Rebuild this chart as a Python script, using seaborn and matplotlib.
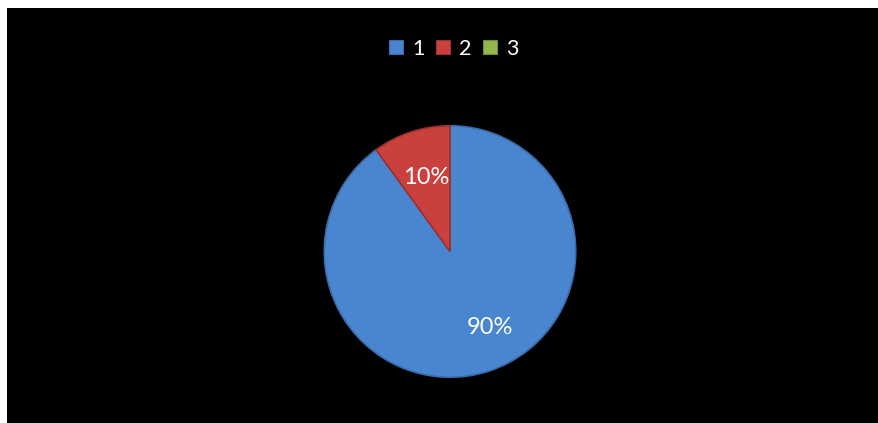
import matplotlib
matplotlib.use("Agg")
import numpy as np
import matplotlib.pyplot as plt
from matplotlib.lines import Line2D
from matplotlib.patches import Rectangle
import seaborn as sns

# data
categories = ["1", "2", "3"]
shares = [90, 10, 0]
colors = ["#4a85cf", "#c9403c", "#93b64f"]
edge_colors = ["#3a6cab", "#9c2f2c", "#6f8c3a"]

sns.set_style("white")
plt.rcParams['font.family'] = ['Lato', 'DejaVu Sans']

W, H = 879, 423
fig = plt.figure(figsize=(W / 100, H / 100), dpi=100)
fig.patch.set_facecolor("white")
# black chart area (thin white margin on top/left)
fig.patches.append(Rectangle((7 / W, 0), 1 - 7 / W, 1 - 8 / H,
                             transform=fig.transFigure, facecolor="black",
                             edgecolor="none", zorder=-5))

cx, cy, r = 450, 251.5, 127
ax = fig.add_axes([(cx - r) / W, (H - cy - r) / H, 2 * r / W, 2 * r / H])
ax.set_facecolor("none")
ax.set_zorder(2)


def pct_label(p):
    return f"{p:.0f}%" if p > 0.5 else ""


wedges, texts, autotexts = ax.pie(
    shares, colors=colors, startangle=90, counterclock=False,
    autopct=pct_label, pctdistance=0.62,
    wedgeprops={"linewidth": 1.2},
    textprops={"color": "white", "fontsize": 17})
for w, ec, v in zip(wedges, edge_colors, shares):
    w.set_edgecolor(ec)
    if v == 0:
        w.set_linewidth(0)

# excel puts the big slice's label a bit off the bisector
x0, y0 = autotexts[0].get_position()
rot = np.deg2rad(-10)
autotexts[0].set_position((1.1 * (x0 * np.cos(rot) + y0 * np.sin(rot)),
                           1.1 * (-x0 * np.sin(rot) + y0 * np.cos(rot))))

ax.set_xlim(-1.01, 1.01)
ax.set_ylim(-1.01, 1.01)
ax.set_aspect("equal")
ax.axis("off")

handles = [Line2D([], [], marker="s", linestyle="none", markersize=9.5,
                  markerfacecolor=c, markeredgecolor=ec, markeredgewidth=0.8)
           for c, ec in zip(colors, edge_colors)]
leg = fig.legend(handles, categories, loc="center", ncol=3,
                 bbox_to_anchor=(453 / W, 1 - 49 / H), frameon=False,
                 fontsize=15.5, handlelength=0.8, handletextpad=0.35,
                 columnspacing=0.45, labelcolor="white")
leg.set_zorder(3)

fig.savefig("out.png", dpi=100, facecolor=fig.get_facecolor())
